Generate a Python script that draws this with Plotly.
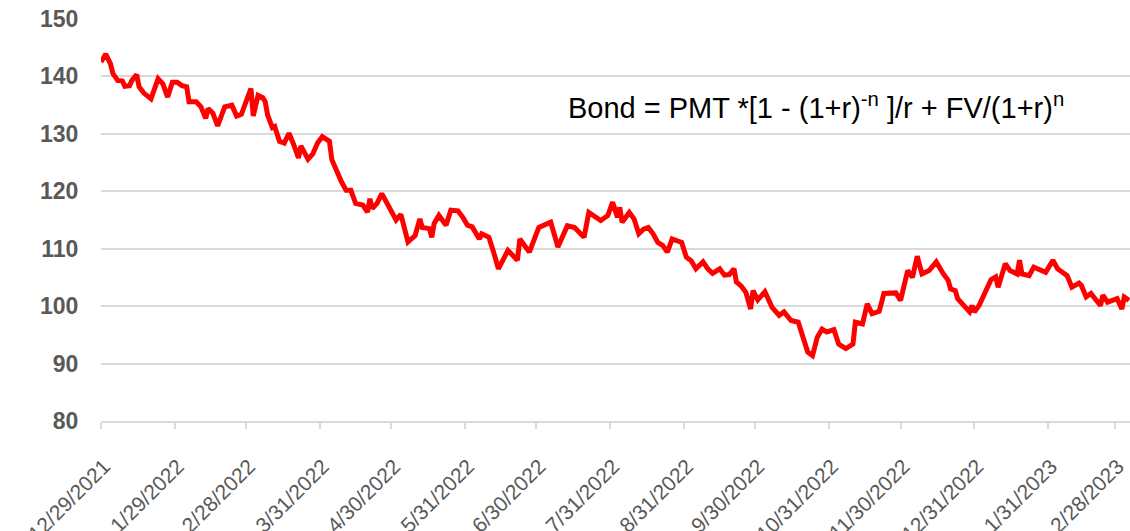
import plotly.graph_objects as go

dates = [
    "2021-12-29", "2021-12-31", "2022-01-02", "2022-01-03", "2022-01-05", "2022-01-07", "2022-01-08",
    "2022-01-10", "2022-01-11", "2022-01-13", "2022-01-14", "2022-01-16", "2022-01-19", "2022-01-22",
    "2022-01-24", "2022-01-26", "2022-01-28", "2022-01-30", "2022-02-01", "2022-02-03", "2022-02-04",
    "2022-02-07", "2022-02-09", "2022-02-11", "2022-02-12", "2022-02-14", "2022-02-16", "2022-02-18",
    "2022-02-19", "2022-02-22", "2022-02-24", "2022-02-26", "2022-02-28", "2022-03-02", "2022-03-03",
    "2022-03-05", "2022-03-07", "2022-03-08", "2022-03-09", "2022-03-11", "2022-03-12", "2022-03-14",
    "2022-03-16", "2022-03-18", "2022-03-20", "2022-03-22", "2022-03-23", "2022-03-26", "2022-03-28",
    "2022-03-30", "2022-04-01", "2022-04-04", "2022-04-05", "2022-04-08", "2022-04-09", "2022-04-11",
    "2022-04-13", "2022-04-15", "2022-04-18", "2022-04-20", "2022-04-21", "2022-04-22", "2022-04-24",
    "2022-04-26", "2022-04-28", "2022-04-30", "2022-05-02", "2022-05-04", "2022-05-07", "2022-05-10",
    "2022-05-12", "2022-05-13", "2022-05-16", "2022-05-17", "2022-05-18", "2022-05-20", "2022-05-23",
    "2022-05-25", "2022-05-28", "2022-05-30", "2022-06-01", "2022-06-03", "2022-06-06", "2022-06-07",
    "2022-06-10", "2022-06-12", "2022-06-14", "2022-06-18", "2022-06-22", "2022-06-23", "2022-06-25",
    "2022-06-27", "2022-07-01", "2022-07-06", "2022-07-09", "2022-07-13", "2022-07-16", "2022-07-20",
    "2022-07-22", "2022-07-27", "2022-07-30", "2022-08-01", "2022-08-03", "2022-08-04", "2022-08-05",
    "2022-08-08", "2022-08-10", "2022-08-12", "2022-08-14", "2022-08-16", "2022-08-18", "2022-08-20",
    "2022-08-22", "2022-08-24", "2022-08-26", "2022-08-30", "2022-09-01", "2022-09-03", "2022-09-05",
    "2022-09-08", "2022-09-10", "2022-09-12", "2022-09-15", "2022-09-17", "2022-09-19", "2022-09-21",
    "2022-09-22", "2022-09-24", "2022-09-26", "2022-09-28", "2022-09-29", "2022-10-01", "2022-10-04",
    "2022-10-05", "2022-10-07", "2022-10-10", "2022-10-12", "2022-10-15", "2022-10-18", "2022-10-20",
    "2022-10-22", "2022-10-24", "2022-10-26", "2022-10-28", "2022-10-30", "2022-11-02", "2022-11-04",
    "2022-11-07", "2022-11-10", "2022-11-11", "2022-11-14", "2022-11-16", "2022-11-18", "2022-11-21",
    "2022-11-23", "2022-11-28", "2022-11-30", "2022-12-03", "2022-12-05", "2022-12-07", "2022-12-09",
    "2022-12-12", "2022-12-15", "2022-12-18", "2022-12-20", "2022-12-21", "2022-12-23", "2022-12-24",
    "2022-12-27", "2022-12-29", "2022-12-30", "2022-12-31", "2023-01-02", "2023-01-04", "2023-01-07",
    "2023-01-09", "2023-01-10", "2023-01-13", "2023-01-15", "2023-01-18", "2023-01-19", "2023-01-20",
    "2023-01-23", "2023-01-25", "2023-01-28", "2023-01-30", "2023-02-02", "2023-02-04", "2023-02-06",
    "2023-02-08", "2023-02-10", "2023-02-13", "2023-02-14", "2023-02-16", "2023-02-18", "2023-02-20",
    "2023-02-22", "2023-02-23", "2023-02-25", "2023-03-01", "2023-03-03", "2023-03-04", "2023-03-06",
]

bond_price = [
    142.5, 143.9, 142.2, 140.5, 139.3, 139.2, 138.3,
    138.4, 139.3, 140.3, 138.2, 137.1, 136.1, 139.6,
    138.7, 136.4, 139.0, 139.0, 138.4, 138.2, 135.6,
    135.6, 134.7, 132.7, 134.4, 133.6, 131.4, 133.3,
    134.7, 135.0, 133.1, 133.4, 135.6, 137.9, 133.1,
    136.7, 136.3, 135.6, 133.3, 131.1, 131.3, 128.7,
    128.4, 130.1, 128.1, 125.8, 127.9, 125.6, 126.5,
    128.4, 129.5, 128.7, 125.5, 122.5, 121.7, 120.2,
    120.2, 117.9, 117.6, 116.4, 118.7, 117.0, 117.9,
    119.6, 118.0, 116.4, 115.0, 116.0, 111.2, 112.3,
    115.2, 113.7, 113.5, 112.0, 114.4, 115.8, 114.1,
    116.7, 116.6, 115.5, 114.1, 113.8, 111.7, 112.6,
    112.0, 109.4, 106.5, 109.7, 108.0, 111.7, 110.6,
    109.4, 113.7, 114.6, 110.3, 114.0, 113.7, 112.0,
    116.3, 114.9, 115.8, 118.1, 115.5, 117.2, 114.6,
    116.3, 115.2, 112.6, 113.4, 113.7, 112.6, 111.1,
    110.6, 109.4, 111.7, 111.1, 108.5, 107.9, 106.5,
    107.7, 106.5, 105.7, 106.5, 105.4, 105.5, 106.5,
    104.2, 103.5, 102.4, 99.5, 102.7, 101.1, 102.5,
    101.6, 99.8, 98.4, 99.0, 97.5, 97.2, 94.6,
    92.0, 91.4, 94.6, 96.0, 95.5, 95.9, 93.4,
    92.6, 93.4, 97.2, 96.9, 100.4, 98.7, 99.1,
    102.2, 102.3, 101.0, 106.2, 105.0, 108.7, 105.6,
    106.2, 107.7, 105.6, 104.5, 103.0, 102.7, 101.3,
    99.9, 99.0, 100.1, 99.0, 100.1, 101.9, 104.6,
    105.1, 103.3, 107.4, 106.2, 105.6, 108.0, 105.6,
    105.3, 106.8, 106.2, 105.9, 108.0, 106.5, 105.9,
    105.3, 103.3, 104.0, 103.6, 101.6, 102.2, 101.0,
    100.1, 101.9, 100.7, 101.3, 99.5, 101.6, 101.0,
]

tick_dates = [
    "2021-12-29", "2022-01-29", "2022-02-28", "2022-03-31", "2022-04-30", "2022-05-31",
    "2022-06-30", "2022-07-31", "2022-08-31", "2022-09-30", "2022-10-31", "2022-11-30",
    "2022-12-31", "2023-01-31", "2023-02-28",
]
tick_labels = [
    "12/29/2021", "1/29/2022", "2/28/2022", "3/31/2022", "4/30/2022", "5/31/2022",
    "6/30/2022", "7/31/2022", "8/31/2022", "9/30/2022", "10/31/2022", "11/30/2022",
    "12/31/2022", "1/31/2023", "2/28/2023",
]
y_ticks = [80, 90, 100, 110, 120, 130, 140, 150]

formula_text = "Bond = PMT *[1 - (1+r)<sup>-n</sup> ]/r + FV/(1+r)<sup>n</sup>"

FONT = "Arial, 'Liberation Sans', sans-serif"
GRID = "#d9d9d9"
LABEL = "#595959"

fig = go.Figure()
fig.add_trace(go.Scatter(
    x=dates, y=bond_price, mode="lines",
    line=dict(color="#ff0000", width=5),
    showlegend=False, hoverinfo="x+y",
))

fig.update_layout(
    width=1130, height=531,
    margin=dict(l=101, r=0, t=19, b=110),
    paper_bgcolor="white", plot_bgcolor="white",
    font=dict(family=FONT, color=LABEL),
    xaxis=dict(
        type="date", automargin=False,
        range=["2021-12-29", "2023-03-06 10:00"],
        tickvals=tick_dates, ticktext=tick_labels,
        tickangle=-45,
        tickfont=dict(family=FONT, size=21, color=LABEL),
        showgrid=False, showline=True, linecolor=GRID, linewidth=1.5,
        ticks="outside", ticklen=6, tickcolor=GRID, tickwidth=1.5,
        ticklabelstandoff=17, ticklabelshift=3,
        zeroline=False,
    ),
    yaxis=dict(
        range=[80, 150], tickvals=y_ticks, automargin=False,
        tickfont=dict(family=FONT, size=23, color=LABEL, weight="bold"),
        showgrid=True, gridcolor=GRID, gridwidth=1.5,
        showline=False, zeroline=False,
        ticks="outside", ticklen=17, tickcolor="rgba(0,0,0,0)",
    ),
    annotations=[dict(
        text=formula_text, xref="paper", yref="paper",
        x=(816 - 101) / 1029, y=(421 - 106) / 402,
        xanchor="center", yanchor="middle", showarrow=False,
        font=dict(family=FONT, size=29, color="black"),
    )],
)

fig.write_html(
    "out.html",
    config={"displayModeBar": False},
    post_script="document.body.style.margin='0';document.body.style.overflow='hidden';",
)
